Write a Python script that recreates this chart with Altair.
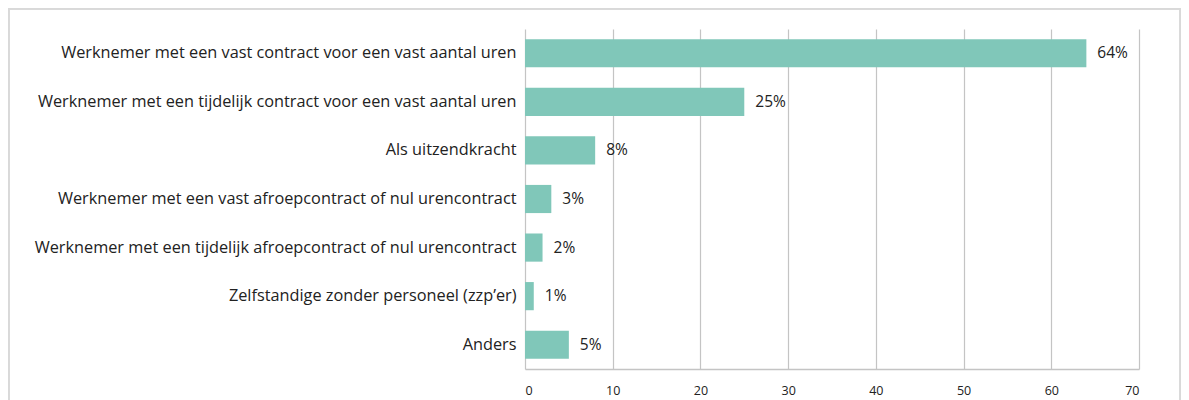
import altair as alt
import pandas as pd

categories = [
    "Werknemer met een vast contract voor een vast aantal uren",
    "Werknemer met een tijdelijk contract voor een vast aantal uren",
    "Als uitzendkracht",
    "Werknemer met een vast afroepcontract of nul urencontract",
    "Werknemer met een tijdelijk afroepcontract of nul urencontract",
    "Zelfstandige zonder personeel (zzp\u2019er)",
    "Anders",
]
values = [64, 25, 8, 3, 2, 1, 5]
labels = ["64%", "25%", "8%", "3%", "2%", "1%", "5%"]
x_ticks = [0, 10, 20, 30, 40, 50, 60, 70]

df = pd.DataFrame({"cat": categories, "val": values, "lab": labels})

FONT = "Open Sans"
TOTAL_W = 1173
W, H = 614, 340
PAD_L, PAD_T = 517, 21

x = alt.X("val:Q", scale=alt.Scale(domain=[0, 70], nice=False),
          axis=alt.Axis(values=x_ticks, title=None, grid=True, gridColor="#c4c4c4",
                        gridWidth=1.2, domainColor="#c4c4c4", domainWidth=1.5, ticks=False,
                        labelPadding=15, labelFontSize=12.5, labelFont=FONT, labelColor="#222222"))
y = alt.Y("cat:N", sort=categories,
          scale=alt.Scale(paddingInner=0.42, paddingOuter=0.21),
          axis=alt.Axis(title=None, domain=False, ticks=False, labelPadding=9,
                        labelFontSize=16.3, labelFont=FONT, labelColor="#222222", labelLimit=600))

bars = alt.Chart(df).mark_bar(color="#80c7b9").encode(x=x, y=y)
text = alt.Chart(df).mark_text(align="left", baseline="middle", dx=11, fontSize=15.5,
                               font=FONT, color="#222222").encode(
    x=alt.X("val:Q"), y=alt.Y("cat:N", sort=categories), text="lab:N")
frame = alt.Chart(df).mark_rect(fill=None, stroke="#d9d9d9", strokeWidth=1.5, clip=False).encode(
    x=alt.value(-PAD_L + 0.75), x2=alt.value(TOTAL_W - PAD_L - 0.75),
    y=alt.value(-PAD_T + 0.75), y2=alt.value(420))

chart = alt.layer(frame, bars, text).properties(
    width=W, height=H,
    autosize=alt.AutoSizeParams(type="none"),
    padding={"left": PAD_L, "top": PAD_T, "right": TOTAL_W - PAD_L - W, "bottom": 40},
).configure_view(stroke=None)

chart.save("out.html", embed_options={"renderer": "svg", "actions": False})
